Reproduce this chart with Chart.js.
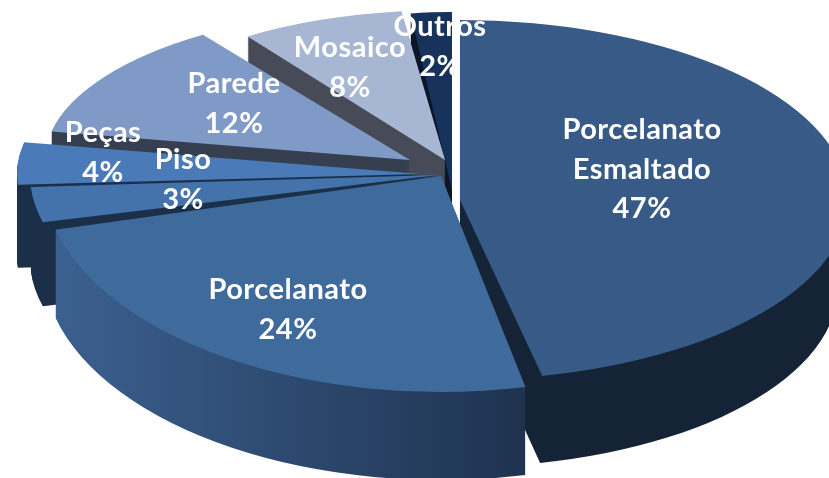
<!DOCTYPE html>
<html>
<head>
<meta charset="utf-8">
<style>html,body{margin:0;padding:0;background:#fff}canvas{display:block}</style>
<script src="https://cdn.jsdelivr.net/npm/chart.js@4"></script>
</head>
<body>
<div style="width:829px;height:478px"><canvas id="c" width="829" height="478"></canvas></div>
<script>
const categories = ["Porcelanato Esmaltado","Porcelanato","Piso","Peças","Parede","Mosaico","Outros"];
const labelLines = [["Porcelanato","Esmaltado"],["Porcelanato"],["Piso"],["Peças"],["Parede"],["Mosaico"],["Outros"]];
const shares = [46.6,24.4,3,4,12.4,7.6,2];
const topColors = ["#375a87","#3f6a9c","#4472aa","#4a7ab8","#7f9ac6","#a7b6d3","#17335c"];
const wallLeft  = ["#1c2f48","#3c6191","#1b2f48","#1b2f48","#363f50","#474b58","#0b1728"];
const wallRight = ["#142335","#1f3350","#1b2f48","#1b2f48","#363f50","#474b58","#0b1728"];
// placement of each exploded wedge on the tilted plane
const apexX = [460,441,438,421,410,445,452];
const apexY = [200,176,175,174,160,160,190];
const radX  = [388,398,408,404,365,348,330];
const radY  = [180,216,190,170,152,150,178];
const depth = [87,88,84,83,60,40,30];
const wallShrink = [10,0,0,0,0,0,0];
const drawOrder = [6,5,4,3,2,0,1];
const labelX = [642,288,183,103,234,350,440];
const labelY = [130,290,160,133,84,48,27];
const lineGap = 39.5;

const tilted = {
  id:'tilted',
  beforeDatasetsDraw(chart){
    const ctx = chart.ctx, arcs = chart.getDatasetMeta(0).data;
    for(const i of drawOrder){
      const arc = arcs[i], r = arc.outerRadius, base = arc.options;
      const place = d => {
        const sx = (radX[i]-wallShrink[i]*d/depth[i])/r, sy = radY[i]/r;
        ctx.setTransform(sx,0,0,sy,apexX[i]-arc.x*sx,apexY[i]+d-arc.y*sy);
      };
      const g = ctx.createLinearGradient(arc.x-r,0,arc.x+r,0);
      g.addColorStop(0,wallLeft[i]); g.addColorStop(0.6,wallRight[i]); g.addColorStop(1,wallRight[i]);
      ctx.save();
      arc.options = Object.assign(Object.create(base),{backgroundColor:g,borderWidth:0});
      for(let d=depth[i];d>0;d--){ place(d); arc.draw(ctx); }
      arc.options = Object.assign(Object.create(base),{backgroundColor:topColors[i],borderWidth:0});
      place(0); arc.draw(ctx);
      arc.options = base;
      ctx.restore();
    }
    ctx.save();
    ctx.font = 'bold 29px Lato';
    ctx.textAlign='center'; ctx.textBaseline='middle'; ctx.fillStyle='#ffffff';
    ctx.letterSpacing='0.5px';
    const total = shares.reduce((a,b)=>a+b,0);
    labelLines.forEach((lines,i)=>{
      const all = lines.concat(Math.round(shares[i]/total*100)+'%');
      all.forEach((t,k)=>ctx.fillText(t,labelX[i],labelY[i]+k*lineGap));
    });
    ctx.restore();
    return false;
  }
};
new Chart(document.getElementById('c'),{
  type:'pie',
  data:{labels:categories,datasets:[{data:shares,backgroundColor:topColors,borderWidth:0}]},
  options:{responsive:false,animation:false,layout:{padding:0},
    plugins:{legend:{display:false},tooltip:{enabled:false}}},
  plugins:[tilted]
});
</script>
</body>
</html>
